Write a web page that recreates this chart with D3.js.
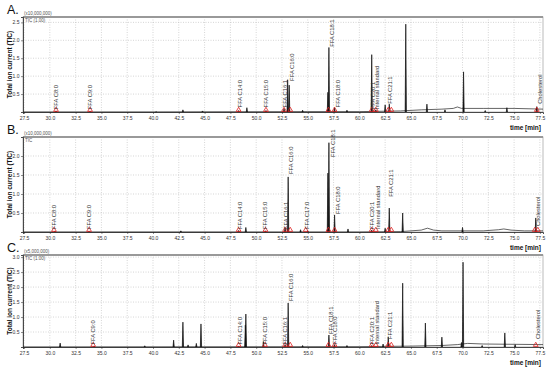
<!DOCTYPE html>
<meta charset="utf-8">
<script src="https://cdn.jsdelivr.net/npm/d3@7"></script>
<style>
  body { margin: 0; background: #fff; }
  text { font-family: "Liberation Sans", Arial, sans-serif; }
</style>
<body>
<svg width="550" height="370"></svg>
</body>
<script>
// x ticks (retention time, min)
var timeTicks = [27.5, 30.0, 32.5, 35.0, 37.5, 40.0, 42.5, 45.0, 47.5, 50.0, 52.5, 55.0, 57.5, 60.0, 62.5, 65.0, 67.5, 70.0, 72.5, 75.0, 77.5];

// panel A: peaks [time, TIC], baseline, labels [time, start, text], red markers
var peaksA = [[30.6,0.03],[33.9,0.02],[40.3,0.01],[42.9,0.06],[44.8,0.03],[48.3,0.04],[49.1,0.12],[50.95,0.04],[52.7,0.1],[53.05,0.9],[53.2,0.75],[54.5,0.05],
  [56.95,0.55],[57.05,1.8],[57.6,0.12],[58.8,0.05],[61.2,1.6],[61.6,0.06],[62.5,0.2],[62.9,0.22],[64.5,2.45],[66.55,0.22],[68.3,0.06],[70.1,1.12],[72.2,0.04],[74.3,0.12],[77.2,0.15]];
var baseA = [[27.4,0],[40,0],[55,0.01],[60,0.01],[62,0.02],[64,0.03],[66,0.06],[68,0.08],[69.1,0.1],[69.5,0.14],[69.9,0.1],[72,0.1],[75,0.1],[77.8,0.08]];
var labelsA = [[30.6,0.05,"FFA C8:0"],[33.9,0.05,"FFA C9:0"],[48.4,0.1,"FFA C14:0"],[50.95,0.1,"FFA C15:0"],[52.8,0.1,"FFA C16:1"],[53.5,0.84,"FFA C16:0"],
  [57.35,1.79,"FFA C18:1"],[57.9,0.1,"FFA C18:0"],[61.3,0.05,"FFA C20:1"],[61.7,0.05,"Internal standard"],[63.0,0.2,"FFA C21:1"],[77.5,0.2,"Cholesterol"]];
var marksA = [30.6,33.9,48.3,50.95,52.7,53.3,57.0,57.6,61.2,61.6,62.8,63.1,77.2];

// panel B
var peaksB = [[30.5,0.02],[33.8,0.02],[42.7,0.03],[48.3,0.04],[49.0,0.12],[50.9,0.03],[52.8,0.12],[53.1,1.45],[54.3,0.06],[55.0,0.03],
  [56.95,1.55],[57.05,2.35],[57.6,0.45],[58.9,0.08],[61.2,0.05],[62.5,0.1],[62.9,0.63],[64.2,0.5],[70.0,0.12],[77.1,0.37]];
var baseB = [[27.4,0],[60,0],[64,0.01],[66,0.05],[66.6,0.1],[67.2,0.05],[68,0.03],[72,0.03],[73.5,0.06],[74,0.08],[74.7,0.05],[76,0.03],[77.8,0.03]];
var labelsB = [[30.4,0.05,"FFA C8:0"],[33.8,0.05,"FFA C9:0"],[48.4,0.05,"FFA C14:0"],[50.9,0.05,"FFA C15:0"],[52.9,0.05,"FFA C16:1"],[53.4,1.5,"FFA C16:0"],
  [54.9,0.05,"FFA C17:0"],[57.4,1.95,"FFA C18:1"],[57.9,0.45,"FFA C18:0"],[61.2,0.05,"FFA C20:1"],[61.8,0.05,"Internal standard"],[63.1,0.9,"FFA C21:1"],[77.3,0.13,"Cholesterol"]];
var marksB = [30.4,33.8,48.3,50.9,52.8,53.3,54.8,57.0,57.6,61.2,61.6,62.8,63.1,77.0,77.3];

// panel C
var peaksC = [[31.0,0.13],[34.3,0.03],[39.2,0.04],[42.0,0.23],[42.9,0.83],[43.4,0.07],[44.2,0.12],[44.65,0.77],[48.3,0.03],[48.95,0.73],[49.0,1.1],[50.7,0.18],
  [52.8,0.08],[53.1,1.47],[54.5,0.05],[57.05,0.4],[57.6,0.08],[58.8,0.05],[61.2,0.05],[62.3,0.1],[62.8,0.33],[64.2,2.13],[66.4,0.8],[68.0,0.33],
  [69.9,0.15],[70.05,2.83],[71.9,0.05],[74.1,0.47],[75.1,0.08]];
var baseC = [[27.4,0],[60,0.01],[65,0.03],[68,0.05],[69.5,0.08],[70.5,0.12],[72,0.1],[77.8,0.08]];
var labelsC = [[34.2,0.05,"FFA C9:0"],[48.4,0.05,"FFA C14:0"],[50.85,0.05,"FFA C15:0"],[52.8,0.05,"FFA C16:1"],[53.4,1.5,"FFA C16:0"],[57.25,0.4,"FFA C18:1"],
  [57.6,0.07,"FFA C18:0"],[61.2,0.05,"FFA C20:1"],[61.7,0.05,"Internal standard"],[63.0,0.23,"FFA C21:1"],[77.3,0.23,"Cholesterol"]];
var marksC = [34.2,48.3,50.85,52.8,53.3,57.0,57.6,61.2,61.6,62.8,63.1,77.1];

var ticksA = [0.5,1.0,1.5,2.0,2.5], ticksB = [0.5,1.0,1.5,2.0], ticksC = [0.5,1.0,1.5,2.0,2.5,3.0];

var panels = [
  {letter:"A.", mult:"(x10,000,000)", tic:"TIC (1.00)", top:17, bottom:112, ymax:2.65, yt:ticksA, peaks:peaksA, base:baseA, labels:labelsA, marks:marksA},
  {letter:"B.", mult:"(x10,000,000)", tic:"TIC", top:137, bottom:232, ymax:2.5, yt:ticksB, peaks:peaksB, base:baseB, labels:labelsB, marks:marksB},
  {letter:"C.", mult:"(x5,000,000)", tic:"TIC (1.00)", top:255, bottom:347, ymax:3.07, yt:ticksC, peaks:peaksC, base:baseC, labels:labelsC, marks:marksC}
];

var svg = d3.select("svg");
var x = d3.scaleLinear().domain([27.4, 77.8]).range([23, 543]);
var left = 23, right = 543;

panels.forEach(function (p) {
  var y = d3.scaleLinear().domain([0, p.ymax]).range([p.bottom, p.top]);
  var g = svg.append("g");

  // grid
  g.selectAll(".vg").data(timeTicks).enter().append("line")
    .attr("x1", function (d) { return x(d); }).attr("x2", function (d) { return x(d); })
    .attr("y1", p.top).attr("y2", p.bottom)
    .attr("stroke", "#bbb").attr("stroke-width", 0.6).attr("stroke-dasharray", "1,1.5");
  g.selectAll(".hg").data(p.yt).enter().append("line")
    .attr("x1", left).attr("x2", right)
    .attr("y1", function (d) { return y(d); }).attr("y2", function (d) { return y(d); })
    .attr("stroke", "#bbb").attr("stroke-width", 0.6).attr("stroke-dasharray", "1,1.5");

  // frame
  g.append("rect").attr("x", left).attr("y", p.top).attr("width", right - left).attr("height", p.bottom - p.top)
    .attr("fill", "none").attr("stroke", "#aaa").attr("stroke-width", 0.8);
  g.append("line").attr("x1", left).attr("x2", right).attr("y1", p.top).attr("y2", p.top)
    .attr("stroke", "#999").attr("stroke-width", 2);

  // axes
  var xa = g.append("g").attr("transform", "translate(0," + p.bottom + ")")
    .call(d3.axisBottom(x).tickValues(timeTicks).tickFormat(d3.format(".1f")).tickSize(2).tickPadding(2));
  var ya = g.append("g").attr("transform", "translate(" + left + ",0)")
    .call(d3.axisLeft(y).tickValues(p.yt).tickFormat(d3.format(".1f")).tickSize(2).tickPadding(1.5));
  [xa, ya].forEach(function (a) {
    a.select(".domain").attr("stroke", "#222").attr("stroke-width", 0.8);
    a.selectAll(".tick line").attr("stroke", "#222").attr("stroke-width", 0.5);
    a.selectAll("text").attr("font-size", 5).attr("fill", "#333").attr("font-family", "Liberation Sans, Arial");
  });

  // baseline trace and peaks
  var line = d3.line().x(function (d) { return x(d[0]); }).y(function (d) { return y(d[1]); });
  g.append("path").attr("d", line(p.base)).attr("fill", "none").attr("stroke", "#222").attr("stroke-width", 0.7);
  g.selectAll(".pk").data(p.peaks).enter().append("path")
    .attr("d", function (d) { return line([[d[0] - 0.06, 0], [d[0], d[1]], [d[0] + 0.06, 0]]); })
    .attr("fill", "#111").attr("stroke", "#111").attr("stroke-width", 0.7);

  // red markers
  g.selectAll(".mk").data(p.marks).enter().append("path")
    .attr("transform", function (d) { return "translate(" + x(d) + "," + (p.bottom - 2) + ")"; })
    .attr("d", d3.symbol().type(d3.symbolTriangle).size(10))
    .attr("fill", "none").attr("stroke", "#e02020").attr("stroke-width", 0.8);

  // peak labels
  g.selectAll(".lb").data(p.labels).enter().append("text")
    .attr("transform", function (d) { return "translate(" + (x(d[0]) + 2) + "," + (y(d[1]) - 1) + ") rotate(-90)"; })
    .attr("font-size", 5.8).attr("fill", "#333").text(function (d) { return d[2]; });

  // texts
  g.append("text").attr("x", 7).attr("y", p.top - 3).attr("font-size", 12.5).attr("fill", "#111").text(p.letter);
  g.append("text").attr("x", left + 1).attr("y", p.top - 2).attr("font-size", 4.5).attr("fill", "#555").text(p.mult);
  g.append("text").attr("x", left + 2).attr("y", p.top + 5).attr("font-size", 4.5).attr("fill", "#555").text(p.tic);
  g.append("text").attr("transform", "translate(12," + ((p.top + p.bottom) / 2) + ") rotate(-90)")
    .attr("text-anchor", "middle").attr("font-size", 6.5).attr("font-weight", "bold").attr("fill", "#111")
    .text("Total ion current (TIC)");
  g.append("text").attr("x", 541).attr("y", p.bottom + 18).attr("text-anchor", "end")
    .attr("font-size", 6.5).attr("font-weight", "bold").attr("fill", "#111").text("time [min]");
});
</script>
